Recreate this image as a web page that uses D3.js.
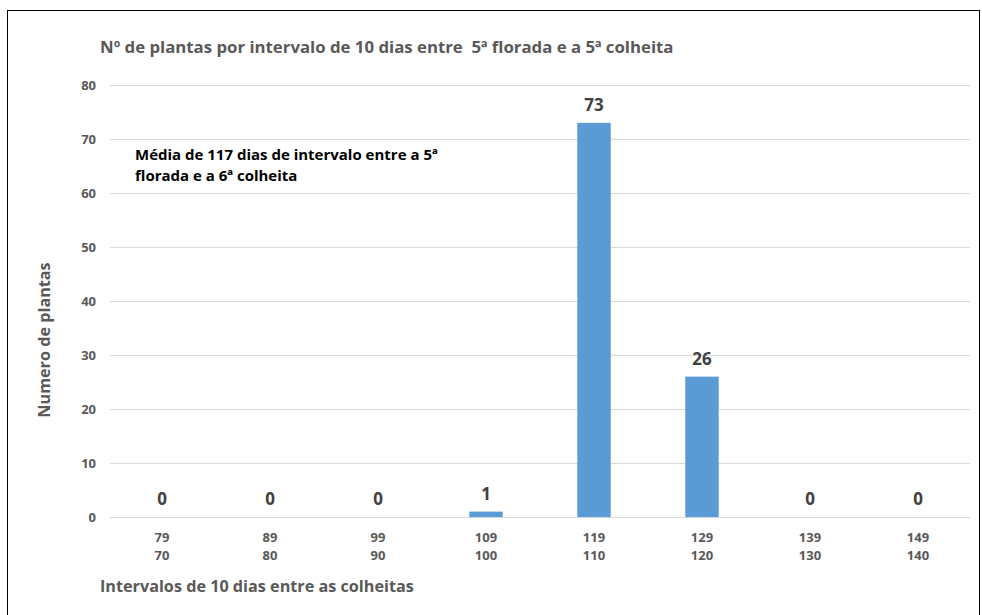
<!DOCTYPE html>
<html><head><meta charset="utf-8">
<script src="https://cdn.jsdelivr.net/npm/d3@7"></script>
<style>body{margin:0;background:#fff}svg{display:block}text{font-family:"Open Sans",sans-serif;font-weight:bold;white-space:pre}</style>
</head><body><svg id="c" width="982" height="615"></svg>
<script>
const categoriesTop = ["79","89","99","109","119","129","139","149"];
const categoriesBottom = ["70","80","90","100","110","120","130","140"];
const values = [0,0,0,1,73,26,0,0];
const yTicks = [0,10,20,30,40,50,60,70,80];
const titleText = "Nº de plantas por intervalo de 10 dias entre  5ª florada e a 5ª colheita";
const yTitle = "Numero de plantas";
const xTitle = "Intervalos de 10 dias entre as colheitas";
const noteLines = ["Média de 117 dias de intervalo entre a 5ª","florada e a 6ª colheita"];

const svg = d3.select("#c");
svg.append("rect").attr("x",7.5).attr("y",10.5).attr("width",972).attr("height",620)
  .attr("fill","none").attr("stroke","#000").attr("stroke-width",1);

const x = d3.scaleBand().domain(categoriesTop).range([108,972]).paddingInner(0.69).paddingOuter(0.345);
const y = d3.scaleLinear().domain([0,80]).range([517,85]);

const grid = svg.append("g");
grid.selectAll("line").data(yTicks).join("line")
  .attr("x1",110).attr("x2",970).attr("y1",d=>y(d)+0.5).attr("y2",d=>y(d)+0.5)
  .attr("stroke","#d9d9d9").attr("stroke-width",1);

const yAxis = d3.axisLeft(y).tickValues(yTicks).tickSize(0).tickPadding(0);
const gy = svg.append("g").attr("transform","translate(96,0)").call(yAxis);
gy.select(".domain").remove();
gy.selectAll("text").attr("fill","#595959").style("font-size","13px").style("font-family","'Open Sans',sans-serif").style("font-weight","bold");

svg.append("g").selectAll("rect").data(values).join("rect")
  .attr("x",(d,i)=>x(categoriesTop[i])).attr("width",x.bandwidth())
  .attr("y",d=>y(d)).attr("height",d=>y(0)-y(d)).attr("fill","#5b9bd5");

svg.append("g").selectAll("text").data(values).join("text")
  .attr("x",(d,i)=>x(categoriesTop[i])+x.bandwidth()/2)
  .attr("y",d=>y(d)-12).attr("text-anchor","middle")
  .attr("fill","#404040").style("font-size","17px").text(d=>d);

const xAxis = d3.axisBottom(x).tickSize(0).tickPadding(0).tickFormat("");
const gx = svg.append("g").attr("transform","translate(0,517)").call(xAxis);
gx.select(".domain").remove();
const tl = svg.append("g");
categoriesTop.forEach((c,i)=>{
  const cx = x(c)+x.bandwidth()/2;
  const t = tl.append("text").attr("x",cx).attr("y",542).attr("text-anchor","middle").attr("fill","#595959").style("font-size","13px");
  t.append("tspan").attr("x",cx).text(c);
  t.append("tspan").attr("x",cx).attr("dy",18).text(categoriesBottom[i]);
});

svg.append("text").attr("x",100).attr("y",53).attr("fill","#595959").style("font-size","16.8px").text(titleText);
svg.append("text").attr("transform","translate(50,340) rotate(-90)").attr("text-anchor","middle")
  .attr("fill","#595959").style("font-size","16.2px").text(yTitle);
svg.append("text").attr("x",100).attr("y",592).attr("fill","#595959").style("font-size","16.2px").text(xTitle);

const note = svg.append("text").attr("x",135).attr("y",160).attr("fill","#000").style("font-size","15px");
noteLines.forEach((l,i)=>note.append("tspan").attr("x",135).attr("dy",i?21:0).text(l));
</script></body></html>
